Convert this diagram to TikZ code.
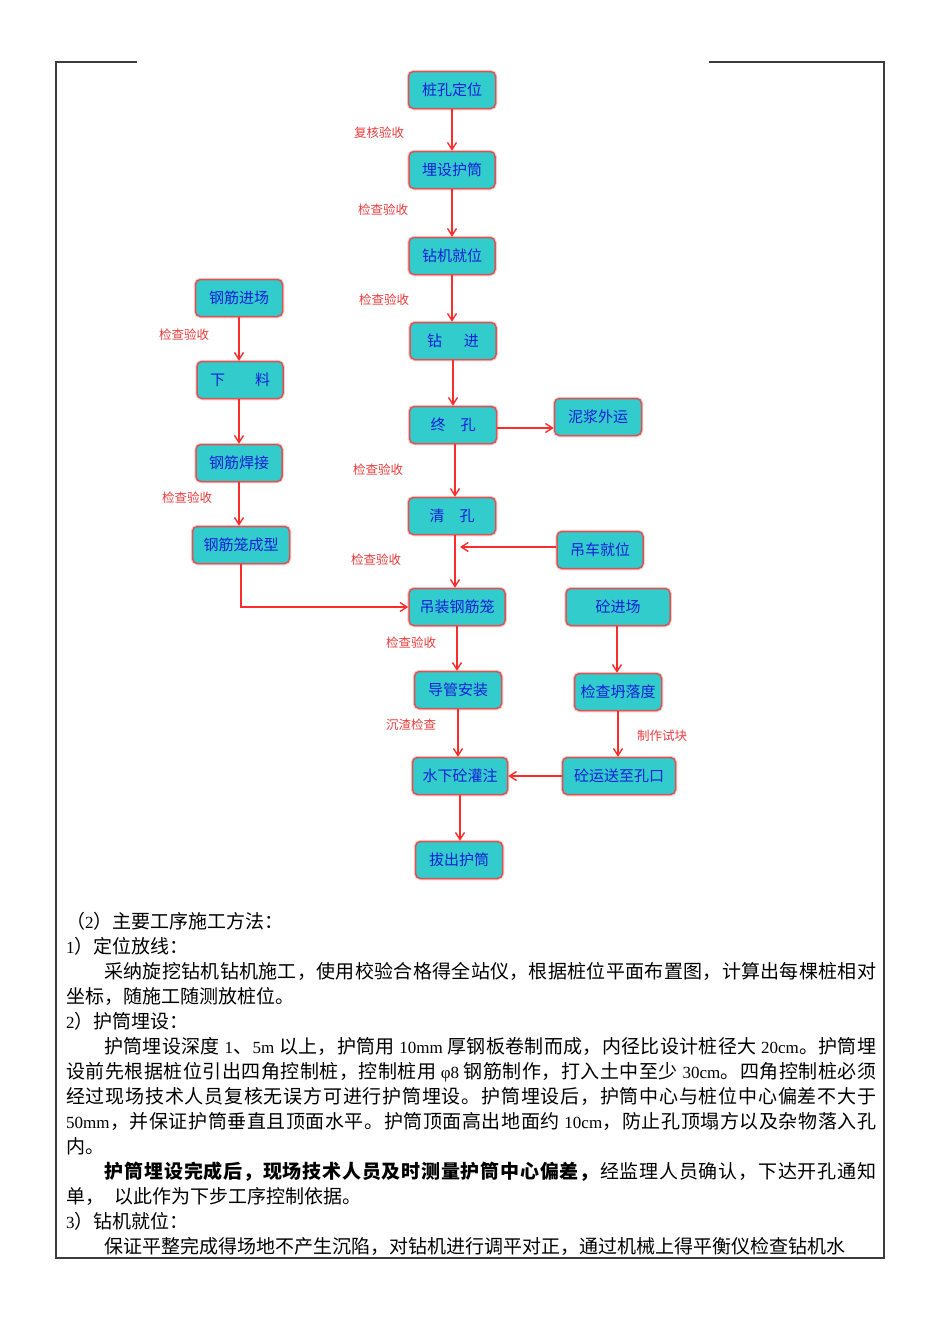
\documentclass[tikz,border=0pt]{standalone}
\usepackage{fontspec}
\newfontfamily\cjk{Noto Sans CJK SC}
\newfontfamily\latf{Liberation Serif}
\newcommand\lt[1]{{\latf\fontsize{17}{17}\selectfont #1}}
\usetikzlibrary{arrows.meta}
\ExplSyntaxOn
\NewDocumentCommand\jline{m m}{
  \hbox_to_wd:nn {#1} { \tl_map_inline:nn {#2} { ##1 \skip_horizontal:n {0pt~plus~1fil} } \unskip }
}
\ExplSyntaxOff
\definecolor{boxfill}{RGB}{51,204,204}
\definecolor{boxline}{RGB}{215,85,85}
\definecolor{flow}{RGB}{250,45,45}
\definecolor{lbl}{RGB}{235,60,60}
\definecolor{btxt}{RGB}{20,30,215}
\definecolor{framec}{RGB}{60,60,60}
\tikzset{
  proc/.style={draw=boxline, line width=1.5pt, fill=boxfill, rounded corners=5pt,
    minimum height=37pt, inner sep=0pt, text=btxt,
    preaction={draw=boxline!30, line width=3.5pt},
    font=\cjk\fontsize{15}{15}\selectfont},
  flowarr/.style={draw=flow, line width=1.4pt, -{Straight Barb[length=7pt,width=9pt]}},
  lab/.style={text=lbl, inner sep=0pt, font=\cjk\fontsize{12.5}{12.5}\selectfont},
  body/.style={anchor=base west, inner sep=0pt, font=\cjk\fontsize{19}{19}\selectfont},
  framel/.style={draw=framec, line width=1.3pt}
}
\begin{document}
\begin{tikzpicture}[x=1pt,y=-1pt]
\useasboundingbox (0,0) rectangle (950,1344);
% frame
\draw[framel] (137,62) -- (56,62) -- (56,1258) -- (884,1258) -- (884,62) -- (709,62);
% main column
\node[proc, minimum width=87pt] (n1) at (452,90) {桩孔定位};
\node[proc, minimum width=86pt] (n2) at (452,170) {埋设护筒};
\node[proc, minimum width=86pt] (n3) at (452,256) {钻机就位};
\node[proc, minimum width=86pt] (n4) at (453,341) {钻\hspace{22pt}进};
\node[proc, minimum width=87pt] (n5) at (453,425) {终\hspace{15pt}孔};
\node[proc, minimum width=87pt] (n6) at (598,417) {泥浆外运};
\node[proc, minimum width=87pt] (n7) at (452,516) {清\hspace{15pt}孔};
\node[proc, minimum width=86pt] (n8) at (600,550) {吊车就位};
\node[proc, minimum width=96pt] (n9) at (457,607) {吊装钢筋笼};
\node[proc, minimum width=104pt] (n10) at (618,607) {砼进场};
\node[proc, minimum width=87pt] (n11) at (458,690) {导管安装};
\node[proc, minimum width=87pt] (n12) at (618,692) {检查坍落度};
\node[proc, minimum width=95pt] (n13) at (460,776) {水下砼灌注};
\node[proc, minimum width=113pt] (n14) at (619,776) {砼运送至孔口};
\node[proc, minimum width=87pt] (n15) at (459,860) {拔出护筒};
% left column
\node[proc, minimum width=87pt] (m1) at (239,298) {钢筋进场};
\node[proc, minimum width=86pt] (m2) at (240,380) {下\hspace{30pt}料};
\node[proc, minimum width=86pt] (m3) at (239,463) {钢筋焊接};
\node[proc, minimum width=97pt] (m4) at (241,545) {钢筋笼成型};
% connectors
\draw[flowarr] (n1.south) -- (n1.south |- n2.north);
\draw[flowarr] (n2.south) -- (n2.south |- n3.north);
\draw[flowarr] (n3.south) -- (n3.south |- n4.north);
\draw[flowarr] (n4.south) -- (n4.south |- n5.north);
\draw[flowarr] ([xshift=2pt]n5.south) -- ([xshift=2pt]n5.south |- n7.north);
\draw[flowarr] ([yshift=-3pt]n5.east) -- ([yshift=-3pt]n5.east -| n6.west);
\coordinate (tr) at ([xshift=3pt]n7.south);
\draw[flowarr] (tr) -- (tr |- n9.north);
\coordinate (tj) at ([xshift=5pt]tr |- n8.west);
\draw[flowarr] ([yshift=3pt]n8.west) -- ([yshift=3pt]tj);
\draw[flowarr] (n9.south) -- (n9.south |- n11.north);
\draw[flowarr] (n11.south) -- (n11.south |- n13.north);
\draw[flowarr] (n13.south) -- (n13.south |- n15.north);
\draw[flowarr] ([xshift=-1pt]n10.south) -- ([xshift=-1pt]n10.south |- n12.north);
\draw[flowarr] (n12.south) -- (n12.south |- n14.north);
\draw[flowarr] (n14.west) -- (n14.west -| n13.east);
\draw[flowarr] (m1.south) -- (m1.south |- m2.north);
\draw[flowarr] ([xshift=-1pt]m2.south) -- ([xshift=-1pt]m2.south |- m3.north);
\draw[flowarr] (m3.south) -- (m3.south |- m4.north);
\draw[flowarr] (m4.south) -- (m4.south |- n9.west) -- (n9.west);
% labels
\node[lab] (l1) at (379,133) {复核验收};
\node[lab] (l2) at (383,210) {检查验收};
\node[lab] (l3) at (384,300) {检查验收};
\node[lab] (l4) at (184,335) {检查验收};
\node[lab] (l5) at (378,470) {检查验收};
\node[lab] (l6) at (187,498) {检查验收};
\node[lab] (l7) at (376,560) {检查验收};
\node[lab] (l8) at (411,643) {检查验收};
\node[lab] (l9) at (411,725) {沉渣检查};
\node[lab] (l10) at (662,736) {制作试块};
% body text
\node[body] (t1) at (66,928) {（\lt{2}）主要工序施工方法：};
\node[body] (t2) at (66,953) {\lt{1}）定位放线：};
\node[body] (t3) at (104,978) {\jline{772pt}{采纳旋挖钻机钻机施工，使用校验合格得全站仪，根据桩位平面布置图，计算出每棵桩相对}};
\node[body] (t4) at (66,1003) {坐标，随施工随测放桩位。};
\node[body] (t5) at (66,1028) {\lt{2}）护筒埋设：};
\node[body] (t6) at (104,1053) {\jline{772pt}{护筒埋设深度{\lt{ 1}}、{\lt{5m }}以上，护筒用{\lt{ 10mm }}厚钢板卷制而成，内径比设计桩径大{\lt{ 20cm}}。护筒埋}};
\node[body] (t7) at (66,1078) {\jline{810pt}{设前先根据桩位引出四角控制桩，控制桩用{\lt{ φ8 }}钢筋制作，打入土中至少{\lt{ 30cm}}。四角控制桩必须}};
\node[body] (t8) at (66,1103) {\jline{810pt}{经过现场技术人员复核无误方可进行护筒埋设。护筒埋设后，护筒中心与桩位中心偏差不大于}};
\node[body] (t9) at (66,1128) {\jline{810pt}{{\lt{50mm}}，并保证护筒垂直且顶面水平。护筒顶面高出地面约{\lt{ 10cm}}，防止孔顶塌方以及杂物落入孔}};
\node[body] (t10) at (66,1153) {内。};
\node[body] (t11) at (104,1178) {\jline{772pt}{\bfseries 护筒埋设完成后，现场技术人员及时测量护筒中心偏差，\mdseries 经监理人员确认，下达开孔通知}};
\node[body] (t12) at (66,1203) {单，\hspace{10pt}以此作为下步工序控制依据。};
\node[body] (t13) at (66,1228) {\lt{3}）钻机就位：};
\node[body] (t14) at (104,1253) {保证平整完成得场地不产生沉陷，对钻机进行调平对正，通过机械上得平衡仪检查钻机水};
\end{tikzpicture}
\end{document}
